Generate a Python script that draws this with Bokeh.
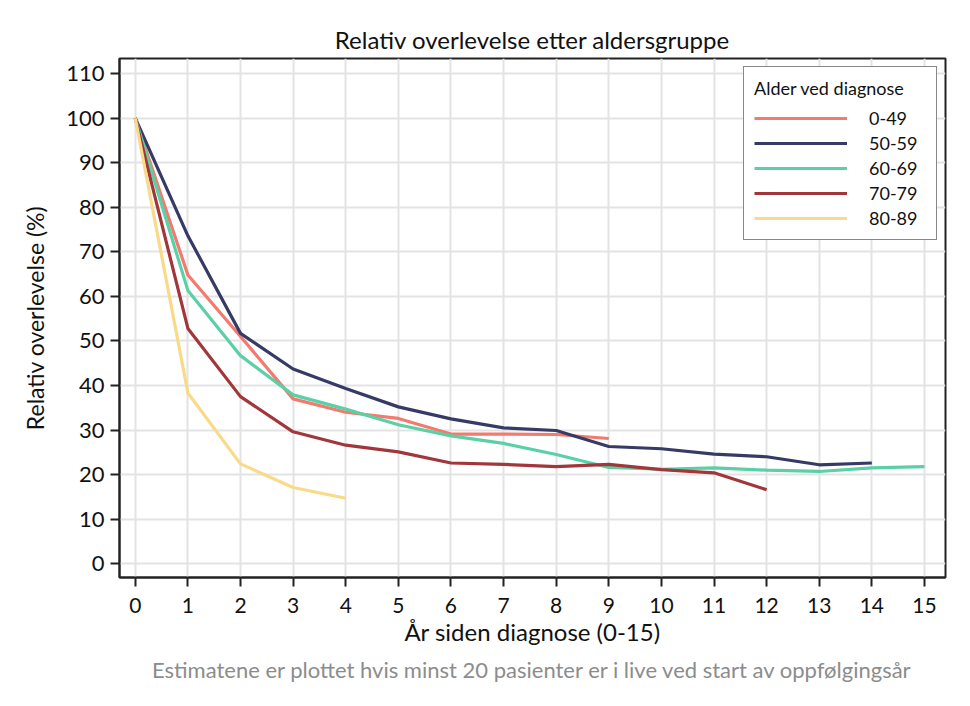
from bokeh.plotting import figure
from bokeh.models import Legend, LegendItem, Range1d, FixedTicker, Title
from bokeh.embed import file_html
from bokeh.resources import INLINE

years = list(range(16))
groups = ["0-49", "50-59", "60-69", "70-79", "80-89"]
colors = ["#F27A6E", "#363B66", "#5BD0A7", "#A1373A", "#F8DA88"]

s_0_49 = [100, 64.8, 51.0, 37.0, 34.0, 32.6, 29.1, 29.1, 29.0, 28.1]
s_50_59 = [100, 73.6, 51.7, 43.7, 39.3, 35.2, 32.5, 30.5, 29.9, 26.3, 25.8, 24.6, 24.0, 22.2, 22.6]
s_60_69 = [100, 61.3, 46.7, 37.9, 34.7, 31.2, 28.7, 27.0, 24.5, 21.6, 21.2, 21.5, 21.0, 20.7, 21.5, 21.8]
s_70_79 = [100, 52.8, 37.5, 29.6, 26.6, 25.1, 22.6, 22.3, 21.8, 22.3, 21.1, 20.4, 16.6]
s_80_89 = [100, 38.3, 22.4, 17.1, 14.7]
series = [s_0_49, s_50_59, s_60_69, s_70_79, s_80_89]

x_ticks = list(range(16))
y_ticks = list(range(0, 111, 10))

FONT = "Lato"

p = figure(width=970, height=706, output_backend="svg", toolbar_location=None,
           x_range=Range1d(-0.3, 15.4), y_range=Range1d(-3.1, 113.4),
           min_border_left=119, min_border_right=25, min_border_top=58, min_border_bottom=129,
           title="Relativ overlevelse etter aldersgruppe")
p.title.align = "center"
p.title.text_font = FONT
p.title.text_font_size = "24px"
p.title.text_font_style = "normal"
p.title.text_color = "#111111"

p.outline_line_color = "#222222"
p.outline_line_width = 2
p.background_fill_color = "white"
p.border_fill_color = "white"

renderers = []
for vals, col in zip(series, colors):
    r = p.line(years[:len(vals)], vals, line_color=col, line_width=3.2)
    renderers.append(r)

for ax, ticks in ((p.xaxis[0], x_ticks), (p.yaxis[0], y_ticks)):
    ax.ticker = FixedTicker(ticks=ticks)
    ax.minor_tick_line_color = None
    ax.major_tick_in = 0
    ax.major_tick_out = 9
    ax.major_tick_line_width = 2
    ax.major_tick_line_color = "#222222"
    ax.axis_line_color = "#222222"
    ax.axis_line_width = 2
    ax.major_label_text_font = FONT
    ax.axis_label_text_font = FONT
    ax.axis_label_text_font_style = "normal"
    ax.major_label_text_color = "#111111"
    ax.axis_label_text_color = "#111111"

p.xaxis.major_label_text_font_size = "21px"
p.yaxis.major_label_text_font_size = "22px"
p.xaxis.axis_label = "År siden diagnose (0-15)"
p.yaxis.axis_label = "Relativ overlevelse (%)"
p.xaxis.axis_label_text_font_size = "24px"
p.yaxis.axis_label_text_font_size = "23px"
p.xaxis.major_label_standoff = 11
p.yaxis.major_label_standoff = 6
p.xaxis.axis_label_standoff = 1
p.yaxis.axis_label_standoff = 14

p.xgrid.ticker = FixedTicker(ticks=x_ticks)
p.ygrid.ticker = FixedTicker(ticks=y_ticks)
p.grid.grid_line_color = "#E3E3E3"
p.grid.grid_line_width = 2

footer = Title(text="Estimatene er plottet hvis minst 20 pasienter er i live ved start av oppfølgingsår",
               align="center", text_font=FONT, text_font_size="22px",
               text_font_style="normal", text_color="#8C8C8C")
p.add_layout(footer, "below")

items = [LegendItem(label=g, renderers=[r]) for g, r in zip(groups, renderers)]
legend = Legend(items=items, location="top_right", title="Alder ved diagnose")
legend.title_text_font = FONT
legend.title_text_font_size = "18px"
legend.title_text_font_style = "normal"
legend.title_text_color = "#111111"
legend.title_standoff = 8
legend.label_text_font = FONT
legend.label_text_font_size = "18px"
legend.label_text_color = "#111111"
legend.glyph_width = 93
legend.glyph_height = 20
legend.label_height = 20
legend.label_width = 57
legend.label_standoff = 22
legend.spacing = 3
legend.padding = 10
legend.margin = 8
legend.border_line_color = "#111111"
legend.border_line_width = 1.5
legend.background_fill_alpha = 1
p.add_layout(legend, "center")

open("out.html", "w").write(file_html(p, INLINE))
